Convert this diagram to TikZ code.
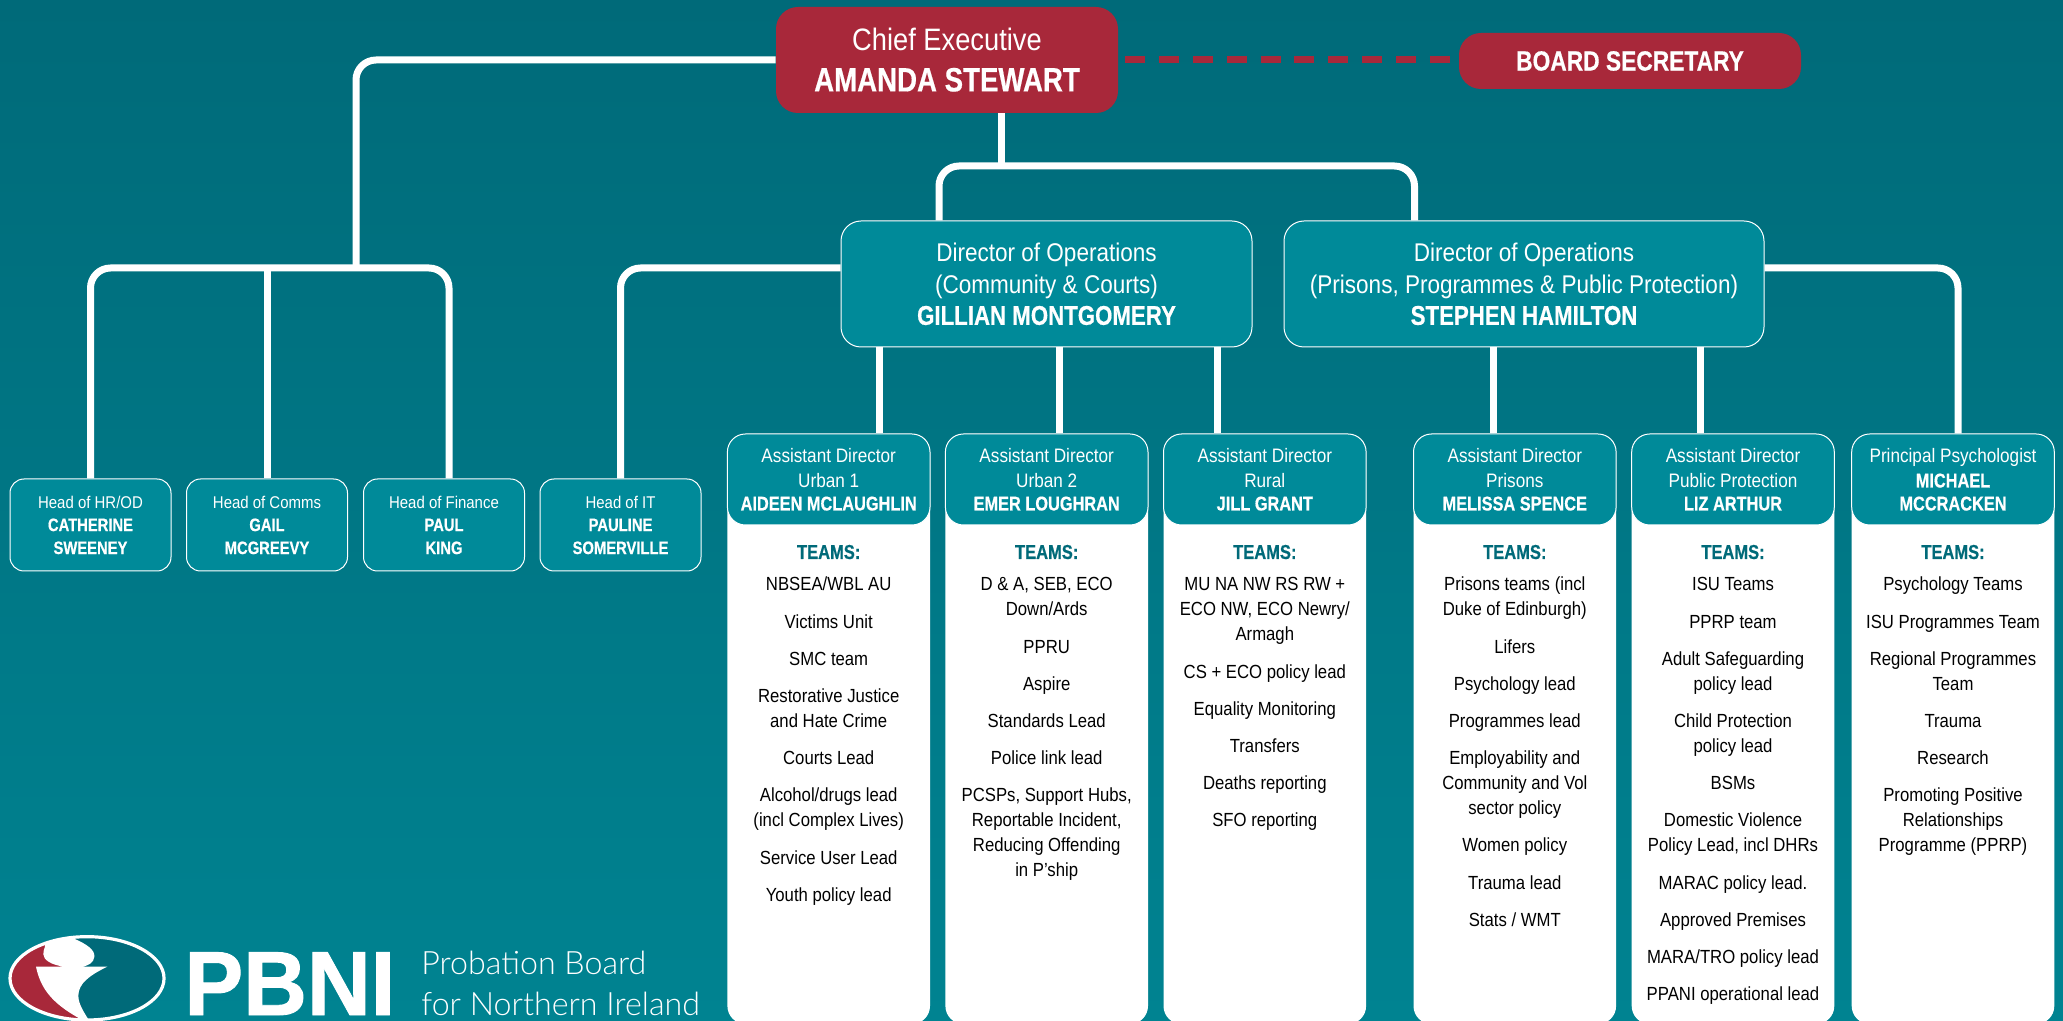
\documentclass[tikz,border=0pt]{standalone}
\usepackage{fontspec}
\setmainfont{Liberation Sans}[FakeStretch=0.88, BoldFeatures={FakeStretch=0.82, FakeBold=0.5, Scale=1.06}]
\newfontfamily\lightfont{Lato Light}
\newfontfamily\logofont{Liberation Sans}[BoldFeatures={FakeStretch=0.97, FakeBold=1}]
\definecolor{petrol}{RGB}{0, 106, 121}
\definecolor{lagoon}{RGB}{0, 131, 145}
\definecolor{boxteal}{RGB}{0, 138, 153}
\definecolor{wine}{RGB}{168, 40, 58}
\newcommand{\itemgap}{\\[6.1pt]}
\newcommand{\nameline}[1]{{\fontsize{9.4pt}{12.5pt}\selectfont\bfseries #1}}
\tikzset{
  wire/.style={draw=white, line width=3.5pt, rounded corners=10pt},
  headbox/.style={draw=white, line width=0.5pt, fill=boxteal, text=white, rounded corners=7pt, align=center,
                  minimum width=80.5pt, minimum height=46pt, inner sep=0pt,
                  font=\fontsize{8.5pt}{11.5pt}\selectfont},
  adbox/.style={draw=white, line width=0.5pt, fill=boxteal, text=white, rounded corners=9pt, align=center,
                minimum width=101.3pt, minimum height=45.5pt, inner sep=0pt,
                font=\fontsize{9.75pt}{12.5pt}\selectfont},
  panelbox/.style={fill=white, rounded corners=9pt, minimum width=101.3pt, minimum height=295pt, inner sep=0pt},
  teamlist/.style={anchor=north, align=center, inner sep=0pt, text=black,
                   font=\fontsize{9.5pt}{12.5pt}\selectfont},
  dirbox/.style={draw=white, line width=0.5pt, fill=boxteal, text=white, rounded corners=10pt, align=center,
                 minimum height=63pt, inner sep=0pt, font=\fontsize{12.8pt}{15.85pt}\selectfont},
  winebox/.style={fill=wine, text=white, rounded corners=11pt, align=center, inner sep=0pt},
}
\begin{document}
\begin{tikzpicture}[x=0.5pt, y=-0.5pt]
\useasboundingbox (0,0) rectangle (2063,1021);
\shade[top color=petrol, bottom color=lagoon] (0,0) rectangle (2063,1021);

% top row
\node[winebox, minimum width=171pt, minimum height=53pt, font=\fontsize{15.5pt}{20.35pt}\selectfont] (chief) at (947,60)
     {Chief Executive\\{\fontsize{15.9pt}{20.35pt}\selectfont\bfseries AMANDA STEWART}};
\node[winebox, minimum width=171pt, minimum height=28pt, font=\fontsize{13.1pt}{15pt}\selectfont\bfseries] (board) at (1630,61)
     {BOARD SECRETARY};

% directors
\node[dirbox, minimum width=205.5pt] (dirCC) at (1046.5,284)
     {Director of Operations\\(Community \& Courts)\\\textbf{GILLIAN MONTGOMERY}};
\node[dirbox, minimum width=240pt]   (dirPP) at (1524,284)
     {Director of Operations\\(Prisons, Programmes \& Public Protection)\\\textbf{STEPHEN HAMILTON}};

% heads
\node[headbox] (hdHR)  at (90.5,525)  {Head of HR/OD\\\textbf{CATHERINE}\\\textbf{SWEENEY}};
\node[headbox] (hdCom) at (267,525)   {Head of Comms\\\textbf{GAIL}\\\textbf{MCGREEVY}};
\node[headbox] (hdFin) at (444,525)   {Head of Finance\\\textbf{PAUL}\\\textbf{KING}};
\node[headbox] (hdIT)  at (620.5,525) {Head of IT\\\textbf{PAULINE}\\\textbf{SOMERVILLE}};

% white team panels
\node[panelbox] (panA) at (828.7,729)  {};
\node[panelbox] (panB) at (1046.7,729) {};
\node[panelbox] (panC) at (1264.8,729) {};
\node[panelbox] (panD) at (1514.8,729) {};
\node[panelbox] (panE) at (1733,729)   {};
\node[panelbox] (panF) at (1953,729)   {};

% assistant directors
\node[adbox] (adA) at (828.7,479.5)  {Assistant Director\\Urban 1\\[-1pt]\nameline{AIDEEN MCLAUGHLIN}};
\node[adbox] (adB) at (1046.7,479.5) {Assistant Director\\Urban 2\\[-1pt]\nameline{EMER LOUGHRAN}};
\node[adbox] (adC) at (1264.8,479.5) {Assistant Director\\Rural\\[-1pt]\nameline{JILL GRANT}};
\node[adbox] (adD) at (1514.8,479.5) {Assistant Director\\Prisons\\[-1pt]\nameline{MELISSA SPENCE}};
\node[adbox] (adE) at (1733,479.5)   {Assistant Director\\Public Protection\\[-1pt]\nameline{LIZ ARTHUR}};
\node[adbox] (adF) at (1953,479.5)   {Principal Psychologist\\\nameline{MICHAEL}\\[-1pt]\nameline{MCCRACKEN}};

% team lists
\node[teamlist] (teamsA) at (828.7,544.5) {\textcolor{petrol}{\textbf{TEAMS:}}\\[3.5pt]
  NBSEA/WBL AU\itemgap Victims Unit\itemgap SMC team\itemgap Restorative Justice\\and Hate Crime\itemgap
  Courts Lead\itemgap Alcohol/drugs lead\\(incl Complex Lives)\itemgap Service User Lead\itemgap Youth policy lead};
\node[teamlist] (teamsB) at (1046.7,544.5) {\textcolor{petrol}{\textbf{TEAMS:}}\\[3.5pt]
  D \& A, SEB, ECO\\Down/Ards\itemgap PPRU\itemgap Aspire\itemgap Standards Lead\itemgap Police link lead\itemgap
  PCSPs, Support Hubs,\\Reportable Incident,\\Reducing Offending\\in P'ship};
\node[teamlist] (teamsC) at (1264.8,544.5) {\textcolor{petrol}{\textbf{TEAMS:}}\\[3.5pt]
  MU NA NW RS RW +\\ECO NW, ECO Newry/\\Armagh\itemgap CS + ECO policy lead\itemgap Equality Monitoring\itemgap
  Transfers\itemgap Deaths reporting\itemgap SFO reporting};
\node[teamlist] (teamsD) at (1514.8,544.5) {\textcolor{petrol}{\textbf{TEAMS:}}\\[3.5pt]
  Prisons teams (incl\\Duke of Edinburgh)\itemgap Lifers\itemgap Psychology lead\itemgap Programmes lead\itemgap
  Employability and\\Community and Vol\\sector policy\itemgap Women policy\itemgap Trauma lead\itemgap Stats / WMT};
\node[teamlist] (teamsE) at (1733,544.5) {\textcolor{petrol}{\textbf{TEAMS:}}\\[3.5pt]
  ISU Teams\itemgap PPRP team\itemgap Adult Safeguarding\\policy lead\itemgap Child Protection\\policy lead\itemgap
  BSMs\itemgap Domestic Violence\\Policy Lead, incl DHRs\itemgap MARAC policy lead.\itemgap Approved Premises\itemgap
  MARA/TRO policy lead\itemgap PPANI operational lead};
\node[teamlist] (teamsF) at (1953,544.5) {\textcolor{petrol}{\textbf{TEAMS:}}\\[3.5pt]
  Psychology Teams\itemgap ISU Programmes Team\itemgap Regional Programmes\\Team\itemgap Trauma\itemgap Research\itemgap
  Promoting Positive\\Relationships\\Programme (PPRP)};

% connectors
\coordinate (ceBus)  at (1001,166);
\coordinate (ccIn)   at (939,166);
\coordinate (ppIn)   at (1414.5,166);
\coordinate (hdJoin) at (356,268);
\draw[wire] (chief.west) -| (hdJoin);
\draw[wire] (hdHR.north) |- (hdJoin) -| ([xshift=2.5pt]hdFin.north);
\draw[wire] (hdCom.north) -- (hdCom.north |- hdJoin);
\draw[wire] (ceBus |- chief.south) -- (ceBus);
\draw[wire] (ccIn |- dirCC.north) -- (ccIn) -- (ppIn) -- (ppIn |- dirPP.north);
\draw[wire] ([yshift=8pt]dirCC.west) -| (hdIT.north);
\draw[wire] ([yshift=8pt]dirPP.east) -| ([xshift=2.5pt]adF.north);
\draw[wire] ([xshift=25.6pt]adA.north)  -- ([xshift=25.6pt]adA.north |- dirCC.south);
\draw[wire] ([xshift=6.4pt]adB.north)   -- ([xshift=6.4pt]adB.north |- dirCC.south);
\draw[wire] ([xshift=-23.9pt]adC.north) -- ([xshift=-23.9pt]adC.north |- dirCC.south);
\draw[wire] ([xshift=-10.6pt]adD.north) -- ([xshift=-10.6pt]adD.north |- dirPP.south);
\draw[wire] ([xshift=-16.5pt]adE.north) -- ([xshift=-16.5pt]adE.north |- dirPP.south);
\draw[wine, line width=3.5pt, dash pattern=on 10pt off 6.9pt, shorten <=3.5pt, shorten >=4pt]
     (chief.east) -- (chief.east -| board.west);

% logo
\begin{scope}[shift={(0,925)}, x=0.1667pt, y=-0.1667pt]
  \begin{scope}
    \clip (261,160) ellipse (231 and 125);
    \fill[petrol] (0,0) rectangle (520,300);
    \fill[wine] (0,0) -- (200,0) -- (200,125) -- (262,300) -- (0,300) -- cycle;
    \fill[white] (132,40) -- (220,40) .. controls (262,58) and (285,75) .. (283,95)
         .. controls (282,112) and (265,123) .. (245,125) -- (322,125)
         .. controls (270,150) and (235,175) .. (235,212) .. controls (235,240) and (255,265) .. (272,295)
         -- (265,295) .. controls (180,250) and (125,210) .. (108,125) -- (192,125)
         .. controls (155,120) and (130,105) .. (130,88) .. controls (130,78) and (132,72) .. (135,65) -- cycle;
  \end{scope}
  \draw[white, line width=1.6pt] (261,160) ellipse (231 and 125);
\end{scope}
\node[anchor=base west, inner sep=0pt, text=white, font=\logofont\fontsize{45.5pt}{46pt}\selectfont\bfseries] (logoName) at (184,1015) {PBNI};
\node[anchor=base west, inner sep=0pt, text=white, font=\lightfont\fontsize{16.1pt}{20pt}\selectfont] (logoLine) at (421,974) {Probation Board};
\node[anchor=base west, inner sep=0pt, text=white, font=\lightfont\fontsize{16.1pt}{20pt}\selectfont] (logoSub)  at (421,1015) {for Northern Ireland};
\end{tikzpicture}
\end{document}
